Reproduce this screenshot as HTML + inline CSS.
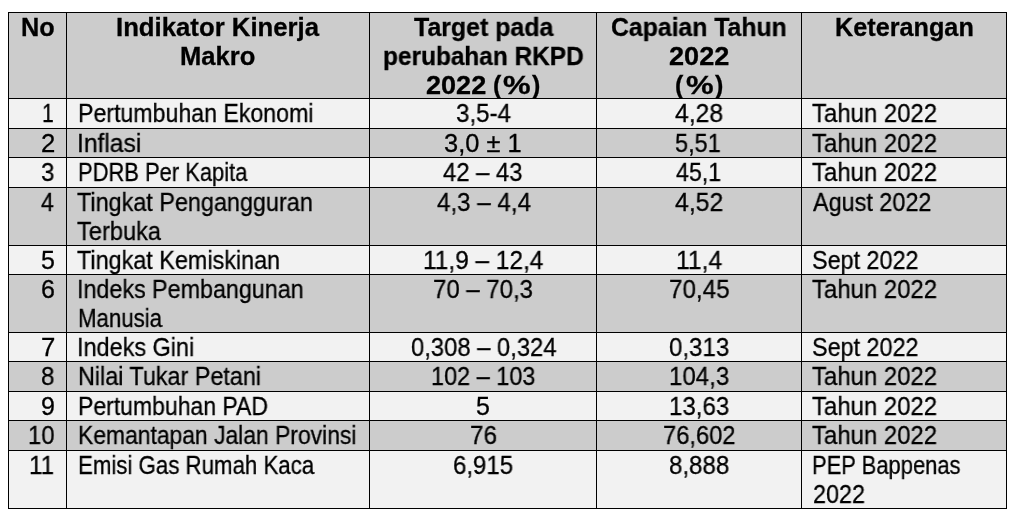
<!DOCTYPE html><html><head><meta charset="utf-8"><style>
html,body{margin:0;padding:0;background:#fff;width:1015px;height:517px;overflow:hidden;position:relative}
.bg{position:absolute}.h{position:absolute;background:#000;height:1px}.v{position:absolute;background:#000;width:1px}
.t{position:absolute;white-space:pre;font-family:"Liberation Sans",sans-serif;font-size:25px;line-height:29px;color:#000;transform-origin:0 0;will-change:transform;-webkit-text-stroke:0.3px #000}.b{font-weight:bold}
</style></head><body>
<div class="bg" style="left:8px;top:12px;width:998px;height:86px;background:#cccccc"></div>
<div class="bg" style="left:8px;top:98px;width:998px;height:30px;background:#f2f2f2"></div>
<div class="bg" style="left:8px;top:128px;width:998px;height:29px;background:#cccccc"></div>
<div class="bg" style="left:8px;top:157px;width:998px;height:30px;background:#f2f2f2"></div>
<div class="bg" style="left:8px;top:187px;width:998px;height:58px;background:#cccccc"></div>
<div class="bg" style="left:8px;top:245px;width:998px;height:29px;background:#f2f2f2"></div>
<div class="bg" style="left:8px;top:274px;width:998px;height:58px;background:#cccccc"></div>
<div class="bg" style="left:8px;top:332px;width:998px;height:29px;background:#f2f2f2"></div>
<div class="bg" style="left:8px;top:361px;width:998px;height:30px;background:#cccccc"></div>
<div class="bg" style="left:8px;top:391px;width:998px;height:29px;background:#f2f2f2"></div>
<div class="bg" style="left:8px;top:420px;width:998px;height:30px;background:#cccccc"></div>
<div class="bg" style="left:8px;top:450px;width:998px;height:58px;background:#f2f2f2"></div>
<div class="h" style="left:8px;top:12px;width:999px"></div>
<div class="h" style="left:8px;top:98px;width:999px"></div>
<div class="h" style="left:8px;top:128px;width:999px"></div>
<div class="h" style="left:8px;top:157px;width:999px"></div>
<div class="h" style="left:8px;top:187px;width:999px"></div>
<div class="h" style="left:8px;top:245px;width:999px"></div>
<div class="h" style="left:8px;top:274px;width:999px"></div>
<div class="h" style="left:8px;top:332px;width:999px"></div>
<div class="h" style="left:8px;top:361px;width:999px"></div>
<div class="h" style="left:8px;top:391px;width:999px"></div>
<div class="h" style="left:8px;top:420px;width:999px"></div>
<div class="h" style="left:8px;top:450px;width:999px"></div>
<div class="h" style="left:8px;top:508px;width:999px"></div>
<div class="v" style="left:8px;top:12px;height:497px"></div>
<div class="v" style="left:66px;top:12px;height:497px"></div>
<div class="v" style="left:369px;top:12px;height:497px"></div>
<div class="v" style="left:596px;top:12px;height:497px"></div>
<div class="v" style="left:801px;top:12px;height:497px"></div>
<div class="v" style="left:1006px;top:12px;height:497px"></div>
<div style="position:absolute;left:0;top:0;width:1015px;height:98px;overflow:hidden">
<div class="t b" style="left:20.50px;top:13px;transform:scaleX(1.0105)">No</div>
<div class="t b" style="left:115.77px;top:13px;transform:scaleX(1.0295)">Indikator Kinerja</div>
<div class="t b" style="left:180.48px;top:42px;transform:scaleX(1.0224)">Makro</div>
<div class="t b" style="left:413.93px;top:13px;transform:scaleX(0.9961)">Target pada</div>
<div class="t b" style="left:382.66px;top:42px;transform:scaleX(0.9765)">perubahan RKPD</div>
<div class="t b" style="left:425.53px;top:71px;transform:scaleX(1.0826)">2022</div>
<div class="t b" style="left:492.78px;top:71px;transform:scaleX(1.0000)">(</div>
<div class="t b" style="left:503.08px;top:71px;transform:scaleX(1.2409)">%</div>
<div class="t b" style="left:532.21px;top:71px;transform:scaleX(1.0000)">)</div>
<div class="t b" style="left:611.29px;top:13px;transform:scaleX(0.9912)">Capaian Tahun</div>
<div class="t b" style="left:669.22px;top:42px;transform:scaleX(1.0845)">2022</div>
<div class="t b" style="left:675.28px;top:71px;transform:scaleX(1.0000)">(</div>
<div class="t b" style="left:685.58px;top:71px;transform:scaleX(1.2409)">%</div>
<div class="t b" style="left:714.71px;top:71px;transform:scaleX(1.0000)">)</div>
<div class="t b" style="left:834.90px;top:13px;transform:scaleX(1.0092)">Keterangan</div>
</div>
<div class="t" style="left:42.16px;top:99px;transform:scaleX(0.8427)">1</div>
<div class="t" style="left:40.55px;top:129px;transform:scaleX(1.0281)">2</div>
<div class="t" style="left:41.00px;top:158px;transform:scaleX(0.9643)">3</div>
<div class="t" style="left:41.34px;top:188px;transform:scaleX(0.9223)">4</div>
<div class="t" style="left:40.63px;top:246px;transform:scaleX(0.9902)">5</div>
<div class="t" style="left:40.96px;top:275px;transform:scaleX(0.9671)">6</div>
<div class="t" style="left:40.51px;top:333px;transform:scaleX(1.0306)">7</div>
<div class="t" style="left:41.00px;top:362px;transform:scaleX(0.9637)">8</div>
<div class="t" style="left:40.97px;top:392px;transform:scaleX(0.9674)">9</div>
<div class="t" style="left:28.15px;top:421px;transform:scaleX(0.9532)">10</div>
<div class="t" style="left:28.93px;top:451px;transform:scaleX(0.9687)">11</div>
<div class="t" style="left:77.73px;top:99px;transform:scaleX(0.9259)">Pertumbuhan Ekonomi</div>
<div class="t" style="left:76.95px;top:129px;transform:scaleX(0.9848)">Inflasi</div>
<div class="t" style="left:77.83px;top:158px;transform:scaleX(0.8770)">PDRB Per Kapita</div>
<div class="t" style="left:77.24px;top:188px;transform:scaleX(0.9352)">Tingkat Pengangguran</div>
<div class="t" style="left:77.44px;top:217px;transform:scaleX(0.9446)">Terbuka</div>
<div class="t" style="left:77.24px;top:246px;transform:scaleX(0.9349)">Tingkat Kemiskinan</div>
<div class="t" style="left:77.05px;top:275px;transform:scaleX(0.9319)">Indeks Pembangunan</div>
<div class="t" style="left:77.80px;top:304px;transform:scaleX(0.8897)">Manusia</div>
<div class="t" style="left:77.04px;top:333px;transform:scaleX(0.9375)">Indeks Gini</div>
<div class="t" style="left:77.72px;top:362px;transform:scaleX(0.9343)">Nilai Tukar Petani</div>
<div class="t" style="left:77.74px;top:392px;transform:scaleX(0.9198)">Pertumbuhan PAD</div>
<div class="t" style="left:77.75px;top:421px;transform:scaleX(0.9149)">Kemantapan Jalan Provinsi</div>
<div class="t" style="left:77.80px;top:451px;transform:scaleX(0.8899)">Emisi Gas Rumah Kaca</div>
<div class="t" style="left:455.60px;top:99px;transform:scaleX(0.9664)">3,5-4</div>
<div class="t" style="left:443.85px;top:129px;transform:scaleX(1.0174)">3,0 ± 1</div>
<div class="t" style="left:443.32px;top:158px;transform:scaleX(0.9528)">42 – 43</div>
<div class="t" style="left:436.61px;top:188px;transform:scaleX(0.9655)">4,3 – 4,4</div>
<div class="t" style="left:423.11px;top:246px;transform:scaleX(0.9770)">11,9 – 12,4</div>
<div class="t" style="left:433.31px;top:275px;transform:scaleX(0.9594)">70 – 70,3</div>
<div class="t" style="left:410.54px;top:333px;transform:scaleX(0.9519)">0,308 – 0,324</div>
<div class="t" style="left:430.88px;top:362px;transform:scaleX(0.9387)">102 – 103</div>
<div class="t" style="left:476.43px;top:392px;transform:scaleX(0.9902)">5</div>
<div class="t" style="left:470.00px;top:421px;transform:scaleX(0.9681)">76</div>
<div class="t" style="left:452.97px;top:451px;transform:scaleX(0.9592)">6,915</div>
<div class="t" style="left:674.80px;top:99px;transform:scaleX(0.9893)">4,28</div>
<div class="t" style="left:675.19px;top:129px;transform:scaleX(0.9410)">5,51</div>
<div class="t" style="left:675.84px;top:158px;transform:scaleX(0.9274)">45,1</div>
<div class="t" style="left:674.80px;top:188px;transform:scaleX(0.9922)">4,52</div>
<div class="t" style="left:676.30px;top:246px;transform:scaleX(0.9851)">11,4</div>
<div class="t" style="left:668.50px;top:275px;transform:scaleX(0.9685)">70,45</div>
<div class="t" style="left:668.93px;top:333px;transform:scaleX(0.9621)">0,313</div>
<div class="t" style="left:668.94px;top:362px;transform:scaleX(0.9619)">104,3</div>
<div class="t" style="left:668.94px;top:392px;transform:scaleX(0.9619)">13,63</div>
<div class="t" style="left:662.62px;top:421px;transform:scaleX(0.9482)">76,602</div>
<div class="t" style="left:668.90px;top:451px;transform:scaleX(0.9625)">8,888</div>
<div class="t" style="left:812.23px;top:99px;transform:scaleX(0.9575)">Tahun 2022</div>
<div class="t" style="left:812.23px;top:129px;transform:scaleX(0.9575)">Tahun 2022</div>
<div class="t" style="left:812.23px;top:158px;transform:scaleX(0.9575)">Tahun 2022</div>
<div class="t" style="left:812.50px;top:188px;transform:scaleX(0.9363)">Agust 2022</div>
<div class="t" style="left:811.97px;top:246px;transform:scaleX(0.9346)">Sept 2022</div>
<div class="t" style="left:812.23px;top:275px;transform:scaleX(0.9575)">Tahun 2022</div>
<div class="t" style="left:811.97px;top:333px;transform:scaleX(0.9346)">Sept 2022</div>
<div class="t" style="left:812.23px;top:362px;transform:scaleX(0.9575)">Tahun 2022</div>
<div class="t" style="left:812.23px;top:392px;transform:scaleX(0.9575)">Tahun 2022</div>
<div class="t" style="left:812.23px;top:421px;transform:scaleX(0.9575)">Tahun 2022</div>
<div class="t" style="left:812.12px;top:451px;transform:scaleX(0.8785)">PEP Bappenas</div>
<div class="t" style="left:812.57px;top:480px;transform:scaleX(0.9350)">2022</div>
</body></html>
